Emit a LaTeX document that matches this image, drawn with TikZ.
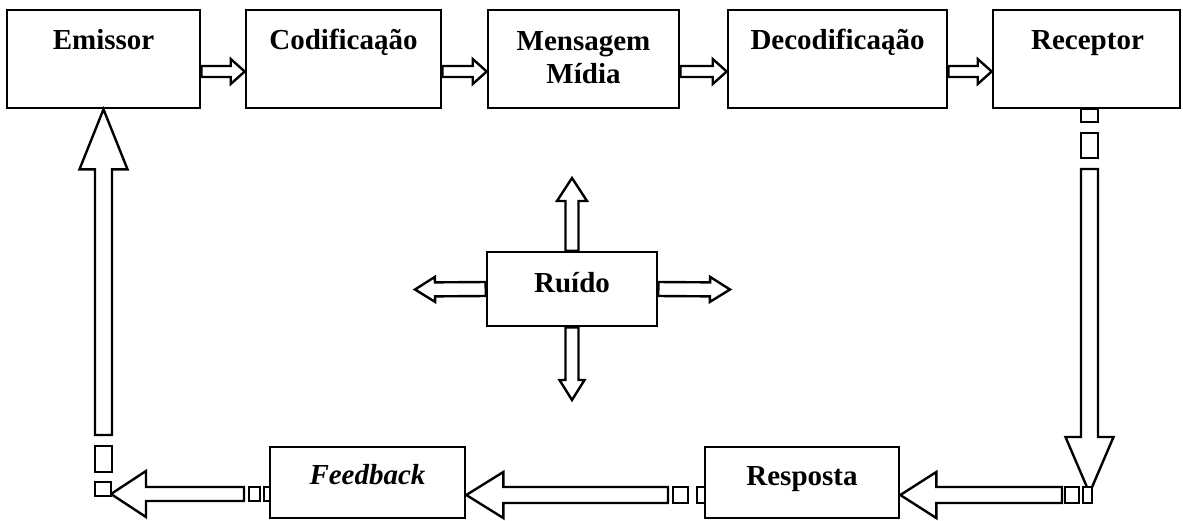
\documentclass[tikz,border=0pt]{standalone}
\usepackage{fontspec}
\setmainfont{Liberation Serif}
\usetikzlibrary{calc}
\newcommand\blockarr[5]{%
  \coordinate (bh) at ($(#2)!#5!(#1)$);
  \path[arrline] ($(#1)!#3!90:(#2)$) -- ($(bh)!#3!-90:(#1)$) -- ($(bh)!#4!-90:(#1)$) -- (#2)
    -- ($(bh)!#4!90:(#1)$) -- ($(bh)!#3!90:(#1)$) -- ($(#1)!#3!-90:(#2)$) -- cycle;}
\tikzset{
  box/.style={draw, line width=2.6pt, inner sep=0pt, fill=white},
  lbl/.style={font=\fontsize{29}{33}\selectfont\bfseries, anchor=base, inner sep=0pt},
  arrline/.style={draw, line width=2.4pt, line join=miter, fill=white},
  dashsq/.style={draw, line width=2.4pt, fill=white}
}
\begin{document}
\begin{tikzpicture}[x=1pt,y=-1pt]
\useasboundingbox (0,0) rectangle (1183,520);
% boxes
\node[box, minimum width=193pt, minimum height=98pt] (em)  at (103.5,59) {};
\node[box, minimum width=195pt, minimum height=98pt] (cod) at (343.5,59) {};
\node[box, minimum width=191pt, minimum height=98pt] (msg) at (583.5,59) {};
\node[box, minimum width=219pt, minimum height=98pt] (dec) at (837.5,59) {};
\node[box, minimum width=187pt, minimum height=98pt] (rec) at (1086.5,59) {};
\node[box, minimum width=170pt, minimum height=74pt] (ru)  at (572,289) {};
\node[box, minimum width=195pt, minimum height=71pt] (fb)  at (367.5,482.5) {};
\node[box, minimum width=194pt, minimum height=71pt] (res) at (802,482.5) {};
% labels
\node[lbl] (tem)  at (103.5,49) {Emissor};
\node[lbl] (tcod) at (343.5,49) {Codificaąão};
\node[lbl] (tmsg1) at (583.5,50) {Mensagem};
\node[lbl] (tmsg2) at (583.5,83) {Mídia};
\node[lbl] (tdec) at (837.5,49) {Decodificaąão};
\node[lbl] (trec) at (1087.5,49) {Receptor};
\node[lbl] (tru)  at (572,292) {Ruído};
\node[lbl, font=\fontsize{29}{33}\selectfont\bfseries\itshape] (tfb) at (367.5,484) {Feedback};
\node[lbl] (tres) at (802,485) {Resposta};
% rows
\coordinate (rowA) at (0,71.5);
\coordinate (rowB) at (0,495);
% top arrows
\coordinate (a1s) at (em.east |- rowA);  \coordinate (a1e) at (cod.west |- rowA);
\coordinate (a2s) at (cod.east |- rowA); \coordinate (a2e) at (msg.west |- rowA);
\coordinate (a3s) at (msg.east |- rowA); \coordinate (a3e) at (dec.west |- rowA);
\coordinate (a4s) at (dec.east |- rowA); \coordinate (a4e) at (rec.west |- rowA);
\blockarr{a1s}{a1e}{5.5pt}{12.5pt}{14pt}
\blockarr{a2s}{a2e}{5.5pt}{12.5pt}{14pt}
\blockarr{a3s}{a3e}{5.5pt}{12.5pt}{14pt}
\blockarr{a4s}{a4e}{5.5pt}{12.5pt}{14pt}
% Ruido arrows
\coordinate (nU) at (572,178);
\coordinate (nD) at (572,400);
\coordinate (nL) at (415,289.5);
\coordinate (nR) at (730,289.5);
\blockarr{ru.north}{nU}{6.5pt}{15pt}{23pt}
\blockarr{ru.south}{nD}{6.5pt}{12.5pt}{20pt}
\blockarr{ru.west}{nL}{7pt}{12.5pt}{20pt}
\blockarr{ru.east}{nR}{7pt}{12.5pt}{20pt}
% right down arrow (dashed start)
\draw[dashsq] (1081,109) rectangle (1098,122);
\draw[dashsq] (1081,133) rectangle (1098,158);
\coordinate (dS) at (1089.5,169);
\coordinate (dE) at (1089.5,493);
\blockarr{dS}{dE}{8.5pt}{24pt}{56pt}
% bottom arrows
\coordinate (r1s) at (1062,495); \coordinate (r1e) at (res.east |- rowB);
\blockarr{r1s}{r1e}{8pt}{23pt}{36pt}
\draw[dashsq] (1065,487) rectangle (1079,503);
\draw[dashsq] (1083,487) rectangle (1092,503);
\coordinate (r2s) at (668,495); \coordinate (r2e) at (fb.east |- rowB);
\blockarr{r2s}{r2e}{8pt}{23pt}{37pt}
\draw[dashsq] (673,487) rectangle (688,503);
\draw[dashsq] (697,487) rectangle (705,503);
\coordinate (r3s) at (244,494); \coordinate (r3e) at (111,494);
\blockarr{r3s}{r3e}{7pt}{23pt}{35pt}
\draw[dashsq] (249,487) rectangle (260,501);
\draw[dashsq] (264,487) rectangle (270,501);
% left up arrow
\draw[dashsq] (95,482) rectangle (111,496);
\draw[dashsq] (95,446) rectangle (112,472);
\coordinate (uS) at (103.5,435);
\blockarr{uS}{em.south}{8.5pt}{24pt}{60pt}
\end{tikzpicture}
\end{document}
